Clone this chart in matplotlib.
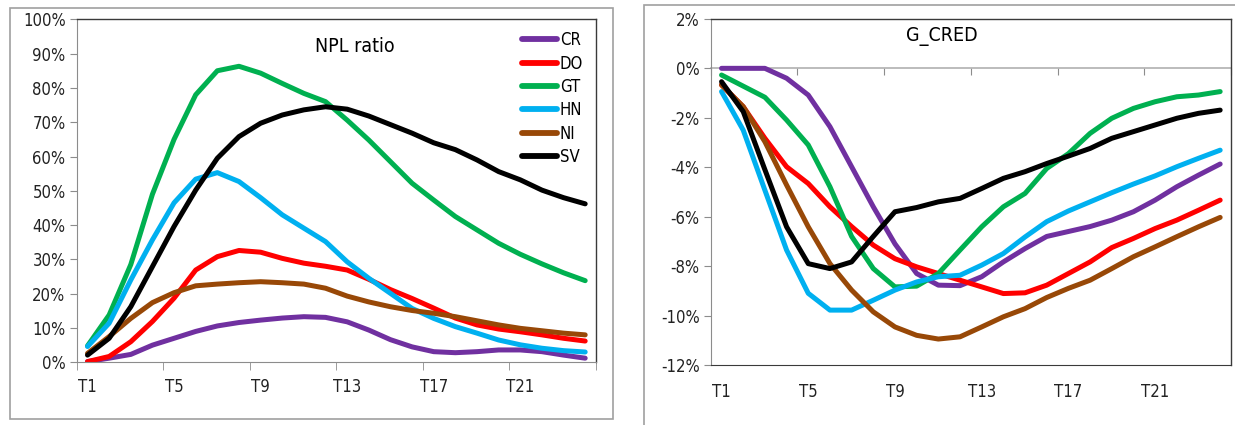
import numpy as np
import matplotlib
matplotlib.use('Agg')
from matplotlib import pyplot as plt
from matplotlib.patches import Rectangle
from matplotlib.ticker import FixedLocator, FuncFormatter

plt.rcParams['font.family'] = ['DejaVu Sans']
plt.rcParams['font.stretch'] = 'condensed'

periods = ['T%d' % i for i in range(1, 25)]
countries = ['CR', 'DO', 'GT', 'HN', 'NI', 'SV']
colors = ['#7030A0', '#FF0000', '#00B050', '#00B0F0', '#984807', '#000000']

# NPL ratio, percent
npl_cr = [0.2, 1.2, 2.3, 5.0, 7.0, 9.0, 10.6, 11.6, 12.3, 12.9, 13.3, 13.1,
          11.8, 9.4, 6.6, 4.5, 3.1, 2.8, 3.1, 3.6, 3.6, 3.1, 2.1, 1.2]
npl_do = [0.2, 1.7, 6.0, 11.9, 18.7, 26.9, 30.8, 32.6, 32.1, 30.3, 28.9, 28.0,
          26.9, 24.2, 21.2, 18.6, 15.8, 12.9, 10.9, 9.7, 8.9, 8.0, 7.0, 6.2]
npl_gt = [4.8, 13.8, 28.5, 49.0, 65.0, 78.0, 85.0, 86.3, 84.3, 81.3, 78.4, 76.0,
          70.6, 64.8, 58.5, 52.2, 47.3, 42.5, 38.6, 34.7, 31.5, 28.7, 26.1, 23.8]
npl_hn = [4.6, 11.4, 24.0, 35.7, 46.5, 53.4, 55.3, 52.7, 48.0, 43.0, 39.1, 35.2,
          29.3, 24.5, 20.1, 15.7, 12.8, 10.4, 8.5, 6.5, 5.1, 4.1, 3.4, 3.0]
npl_ni = [2.6, 7.5, 12.8, 17.4, 20.3, 22.3, 22.8, 23.2, 23.5, 23.2, 22.8, 21.6,
          19.3, 17.6, 16.2, 15.1, 14.3, 13.3, 12.1, 10.9, 9.9, 9.2, 8.5, 8.0]
npl_sv = [2.1, 7.0, 16.2, 27.9, 39.6, 50.2, 59.5, 65.8, 69.7, 72.1, 73.6, 74.5,
          73.8, 71.8, 69.3, 66.8, 64.0, 62.0, 59.0, 55.6, 53.2, 50.2, 48.0, 46.2]

# credit growth, percent
cred_cr = [0.0, 0.0, 0.0, -0.4, -1.08, -2.36, -3.98, -5.6, -7.1, -8.3, -8.77, -8.79,
           -8.43, -7.83, -7.29, -6.8, -6.6, -6.4, -6.14, -5.8, -5.33, -4.79, -4.32, -3.87]
cred_do = [-0.67, -1.55, -2.83, -3.98, -4.66, -5.6, -6.4, -7.15, -7.7, -8.03, -8.3, -8.57,
           -8.84, -9.11, -9.08, -8.77, -8.3, -7.83, -7.25, -6.88, -6.48, -6.14, -5.74, -5.33]
cred_gt = [-0.27, -0.72, -1.17, -2.09, -3.1, -4.79, -6.8, -8.1, -8.84, -8.81, -8.3, -7.35,
           -6.41, -5.6, -5.06, -4.05, -3.45, -2.63, -2.02, -1.62, -1.35, -1.15, -1.08, -0.94]
cred_hn = [-0.94, -2.5, -4.93, -7.35, -9.1, -9.78, -9.78, -9.38, -8.97, -8.64, -8.43, -8.37,
           -7.96, -7.49, -6.82, -6.2, -5.77, -5.4, -5.03, -4.68, -4.35, -3.98, -3.64, -3.31]
cred_ni = [-0.67, -1.55, -2.97, -4.72, -6.41, -7.9, -8.97, -9.85, -10.46, -10.8, -10.95, -10.86,
           -10.46, -10.05, -9.72, -9.27, -8.9, -8.57, -8.1, -7.62, -7.22, -6.81, -6.41, -6.03]
cred_sv = [-0.54, -1.75, -4.1, -6.41, -7.9, -8.1, -7.83, -6.8, -5.8, -5.63, -5.4, -5.26,
           -4.86, -4.45, -4.18, -3.85, -3.55, -3.24, -2.83, -2.56, -2.29, -2.02, -1.82, -1.69]

npl = [npl_cr, npl_do, npl_gt, npl_hn, npl_ni, npl_sv]
cred = [cred_cr, cred_do, cred_gt, cred_hn, cred_ni, cred_sv]

x = np.arange(1, len(periods) + 1)
label_pos = x[::4]
bounds = np.arange(0.5, len(periods) + 1, 4)
grey = '#8c8c8c'
dark = '#3a3a3a'
fs = 12

fig = plt.figure(figsize=(12.35, 4.25), dpi=100)

# chart area frames
fig.patches.append(Rectangle((10 / 1235, 1 - 419 / 425), 603 / 1235, 411 / 425,
                             transform=fig.transFigure, fill=False,
                             edgecolor='#a0a0a0', lw=1.2))
fig.patches.append(Rectangle((643.5 / 1235, -0.05), 0.5, 1 - 5 / 425 + 0.05,
                             transform=fig.transFigure, fill=False,
                             edgecolor='#a0a0a0', lw=1.2))

pct = FuncFormatter(lambda v, p: '%d%%' % round(v))


def style_axes(ax, xpad):
    ax.set_xlim(0.5, len(periods) + 0.5)
    for s in ['top', 'right']:
        ax.spines[s].set_color(dark)
        ax.spines[s].set_linewidth(1.0)
    ax.spines['left'].set_color(grey)
    ax.yaxis.set_major_formatter(pct)
    ax.tick_params(axis='y', direction='out', length=5, color=grey,
                   labelsize=fs, labelcolor='#222222', pad=3)
    ax.xaxis.set_major_locator(FixedLocator(label_pos))
    ax.set_xticklabels(periods[::4])
    ax.tick_params(axis='x', which='major', length=0, labelsize=fs,
                   labelcolor='#222222', pad=xpad)


# left panel: NPL ratio
ax1 = fig.add_axes([76.7 / 1235, 1 - 362.3 / 425, 519.3 / 1235, 343 / 425])
for vals, name, c in zip(npl, countries, colors):
    ax1.plot(x, vals, color=c, lw=3.6, label=name, solid_capstyle='round',
             solid_joinstyle='round')
ax1.set_ylim(0, 100)
ax1.set_yticks(np.arange(0, 101, 10))
style_axes(ax1, 11)
ax1.spines['bottom'].set_color(grey)
ax1.xaxis.set_minor_locator(FixedLocator(bounds))
ax1.tick_params(axis='x', which='minor', direction='out', length=6, color=grey)
ax1.text(0.536, 0.92, 'NPL ratio', transform=ax1.transAxes, ha='center',
         va='center', fontsize=14)
leg = ax1.legend(loc='upper left', bbox_to_anchor=(0.858, 0.965), frameon=False,
                 fontsize=fs, handlelength=2.1, handletextpad=0.15,
                 labelspacing=0.32, borderpad=0, borderaxespad=0)
for h in leg.get_lines():
    h.set_linewidth(4.2)

# right panel: credit growth
ax2 = fig.add_axes([710.7 / 1235, 1 - 365 / 425, 520.3 / 1235, 346.1 / 425])
for vals, name, c in zip(cred, countries, colors):
    ax2.plot(x, vals, color=c, lw=3.6, label=name, solid_capstyle='round',
             solid_joinstyle='round')
ax2.set_ylim(-12, 2)
ax2.set_yticks(np.arange(-12, 3, 2))
style_axes(ax2, 13)
ax2.spines['bottom'].set_color(dark)
# category axis crossing at 0%
zero_axis = ax2.secondary_xaxis(0, transform=ax2.transData)
zero_axis.spines['bottom'].set_color('#b0b0b0')
zero_axis.spines['bottom'].set_linewidth(1.2)
zero_axis.set_xticks(bounds)
zero_axis.set_xticklabels([])
zero_axis.tick_params(axis='x', direction='out', length=5, color=grey)
ax2.text(0.444, 0.9486, 'G_CRED', transform=ax2.transAxes, ha='center',
         va='center', fontsize=14)

fig.savefig('out.png', dpi=100)
